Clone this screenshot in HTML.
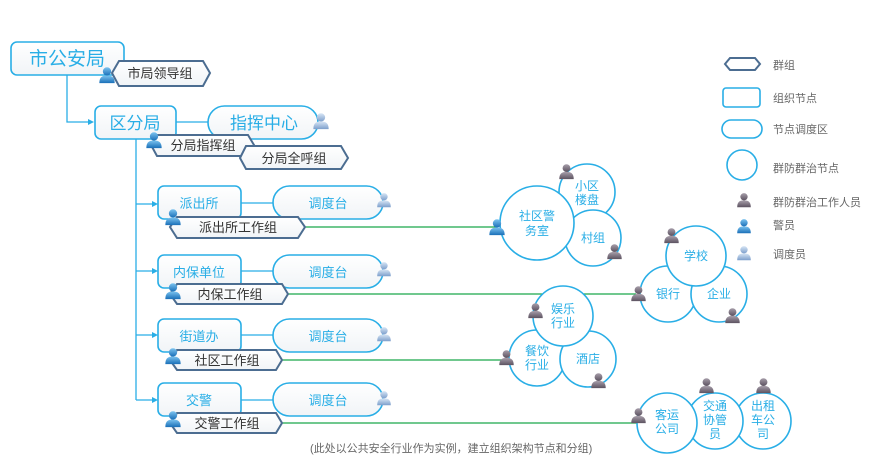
<!DOCTYPE html>
<html><head><meta charset="utf-8"><style>
html,body{margin:0;padding:0;background:#fff}
svg text{font-family:"Liberation Sans","Noto Sans CJK SC",sans-serif}
</style></head><body>
<svg width="882" height="470" viewBox="0 0 882 470" xmlns="http://www.w3.org/2000/svg">
<defs>
<linearGradient id="gb" x1="0" y1="0" x2="0" y2="1"><stop offset="0" stop-color="#7cc4f0"/><stop offset="1" stop-color="#1a6fb8"/></linearGradient>
<linearGradient id="gl" x1="0" y1="0" x2="0" y2="1"><stop offset="0" stop-color="#d8e6f5"/><stop offset="1" stop-color="#7d9fcc"/></linearGradient>
<linearGradient id="gg" x1="0" y1="0" x2="0" y2="1"><stop offset="0" stop-color="#a79eaa"/><stop offset="1" stop-color="#5c5260"/></linearGradient>
<linearGradient id="fill" x1="0" y1="0" x2="0" y2="1"><stop offset="0" stop-color="#ffffff"/><stop offset="1" stop-color="#f1f4f7"/></linearGradient>
<symbol id="p" viewBox="0 0 20 20" overflow="visible"><circle cx="10" cy="6" r="4.6"/><path d="M1.5 19 C1.5 12 5 10.5 10 10.5 C15 10.5 18.5 12 18.5 19 Z"/></symbol>
</defs>
<g fill="none" stroke="#29aee6" stroke-width="1.3">
<path d="M67 75 V122 H90"/><path d="M136 139 V400"/>
<path d="M136 204 H154 M136 271 H154 M136 335 H154 M136 400 H154"/>
<path d="M176 122 H208"/>
<path d="M241 203 H273 M241 271 H273 M241 335 H273 M241 400 H273"/>
</g>
<g fill="#29aee6"><path d="M94 122 l-6 -3 v6z"/><path d="M158 204 l-6 -3 v6z"/><path d="M158 271 l-6 -3 v6z"/><path d="M158 335 l-6 -3 v6z"/><path d="M158 400 l-6 -3 v6z"/></g>
<g stroke="#1aa84a" stroke-width="1.2"><path d="M305 227 H497"/><path d="M288 294 H636"/><path d="M282 360 H505"/><path d="M282 423 H640"/></g>
<!-- boxes -->
<g fill="url(#fill)" stroke="#29aee6" stroke-width="1.6">
<rect x="11" y="42" width="113" height="33" rx="6"/>
<rect x="95" y="106" width="81" height="33" rx="6"/>
<rect x="208" y="106" width="110" height="33" rx="16.5"/>
<rect x="158" y="186" width="83" height="33" rx="6"/><rect x="273" y="186" width="110" height="33" rx="16.5"/>
<rect x="158" y="255" width="83" height="33" rx="6"/><rect x="273" y="255" width="110" height="33" rx="16.5"/>
<rect x="158" y="319" width="83" height="33" rx="6"/><rect x="273" y="319" width="110" height="33" rx="16.5"/>
<rect x="158" y="383" width="83" height="33" rx="6"/><rect x="273" y="383" width="110" height="33" rx="16.5"/>
</g>
<g fill="#29aee6" text-anchor="middle">
<text x="67" y="65" font-size="19">市公安局</text>
<text x="135" y="129" font-size="17">区分局</text>
<text x="264" y="129" font-size="17">指挥中心</text>
<text x="199" y="208" font-size="13">派出所</text><text x="328" y="208" font-size="13">调度台</text>
<text x="199" y="277" font-size="13">内保单位</text><text x="328" y="277" font-size="13">调度台</text>
<text x="199" y="341" font-size="13">街道办</text><text x="328" y="341" font-size="13">调度台</text>
<text x="199" y="405" font-size="13">交警</text><text x="328" y="405" font-size="13">调度台</text>
</g>
<!-- hex groups -->
<g fill="url(#fill)" stroke="#4c6d91" stroke-width="2">
<path d="M112 73 L119 61 H203 L210 73 L203 86 H119 Z"/>
<path d="M151 145 L157 135 H248 L254 145 L248 156 H157 Z"/>
<path d="M240 158 L246 146 H341 L348 158 L341 169 H246 Z"/>
<path d="M170 227 L177 217 H298 L305 227 L298 238 H177 Z"/>
<path d="M170 294 L177 284 H282 L288 294 L282 304 H177 Z"/>
<path d="M170 360 L177 350 H276 L282 360 L276 370 H177 Z"/>
<path d="M170 423 L177 413 H276 L282 423 L276 433 H177 Z"/>
</g>
<g fill="#333" font-size="13" text-anchor="middle">
<text x="160" y="78">市局领导组</text>
<text x="203" y="150">分局指挥组</text>
<text x="294" y="163">分局全呼组</text>
<text x="238" y="232">派出所工作组</text>
<text x="230" y="299">内保工作组</text>
<text x="227" y="365">社区工作组</text>
<text x="227" y="428">交警工作组</text>
</g>
<!-- circles -->
<g fill="#fff" stroke="#29aee6" stroke-width="1.6">
<circle cx="587" cy="192" r="28"/><circle cx="593" cy="238" r="28"/><circle cx="537" cy="223" r="37"/>
<circle cx="668" cy="294" r="28"/><circle cx="719" cy="294" r="28"/><circle cx="696" cy="256" r="30"/>
<circle cx="537" cy="358" r="28"/><circle cx="588" cy="359" r="28"/><circle cx="563" cy="316" r="30"/>
<circle cx="763" cy="421" r="28"/><circle cx="715" cy="421" r="28"/><circle cx="667" cy="423" r="30"/>
<circle cx="742" cy="165" r="15"/>
</g>
<g fill="#29aee6" font-size="12" text-anchor="middle">
<text x="537" y="220">社区警</text><text x="537" y="235">务室</text>
<text x="587" y="190">小区</text><text x="587" y="204">楼盘</text>
<text x="593" y="242">村组</text>
<text x="696" y="260">学校</text><text x="668" y="298">银行</text><text x="719" y="298">企业</text>
<text x="563" y="313">娱乐</text><text x="563" y="327">行业</text>
<text x="537" y="355">餐饮</text><text x="537" y="369">行业</text><text x="588" y="363">酒店</text>
<text x="667" y="419">客运</text><text x="667" y="433">公司</text>
<text x="715" y="410">交通</text><text x="715" y="424">协管</text><text x="715" y="438">员</text>
<text x="763" y="410">出租</text><text x="763" y="424">车公</text><text x="763" y="438">司</text>
</g>
<!-- persons -->
<g fill="url(#gb)">
<use href="#p" x="98" y="66" width="18" height="18"/>
<use href="#p" x="145" y="131" width="18" height="18"/>
<use href="#p" x="164" y="208" width="18" height="18"/>
<use href="#p" x="164" y="282" width="18" height="18"/>
<use href="#p" x="164" y="347" width="18" height="18"/>
<use href="#p" x="164" y="410" width="18" height="18"/>
<use href="#p" x="488" y="218" width="18" height="18"/>
<use href="#p" x="736" y="218" width="16" height="16"/>
</g>
<g fill="url(#gl)">
<use href="#p" x="312" y="112" width="18" height="18"/>
<use href="#p" x="376" y="192" width="16" height="16"/>
<use href="#p" x="376" y="261" width="16" height="16"/>
<use href="#p" x="376" y="326" width="16" height="16"/>
<use href="#p" x="376" y="390" width="16" height="16"/>
<use href="#p" x="736" y="245" width="16" height="16"/>
</g>
<g fill="url(#gg)">
<use href="#p" x="558" y="163" width="17" height="17"/>
<use href="#p" x="606" y="243" width="17" height="17"/>
<use href="#p" x="663" y="227" width="17" height="17"/>
<use href="#p" x="630" y="285" width="17" height="17"/>
<use href="#p" x="724" y="307" width="17" height="17"/>
<use href="#p" x="527" y="302" width="17" height="17"/>
<use href="#p" x="498" y="349" width="17" height="17"/>
<use href="#p" x="590" y="372" width="17" height="17"/>
<use href="#p" x="630" y="407" width="17" height="17"/>
<use href="#p" x="698" y="377" width="17" height="17"/>
<use href="#p" x="755" y="377" width="17" height="17"/>
<use href="#p" x="736" y="192" width="16" height="16"/>
</g>
<!-- legend -->
<path d="M725 64 L730 58 H755 L760 64 L755 70 H730 Z" fill="#fff" stroke="#4c6d91" stroke-width="2"/>
<rect x="723" y="88" width="37" height="19" rx="3" fill="#fff" stroke="#29aee6" stroke-width="1.6"/>
<rect x="722" y="120" width="40" height="18" rx="9" fill="#fff" stroke="#29aee6" stroke-width="1.6"/>
<g fill="#666" font-size="11">
<text x="773" y="69">群组</text><text x="773" y="102">组织节点</text><text x="773" y="133">节点调度区</text>
<text x="773" y="172">群防群治节点</text><text x="773" y="206">群防群治工作人员</text>
<text x="773" y="229">警员</text><text x="773" y="258">调度员</text>
<text x="310" y="452">(此处以公共安全行业作为实例，建立组织架构节点和分组)</text>
</g>
</svg>
</body></html>
